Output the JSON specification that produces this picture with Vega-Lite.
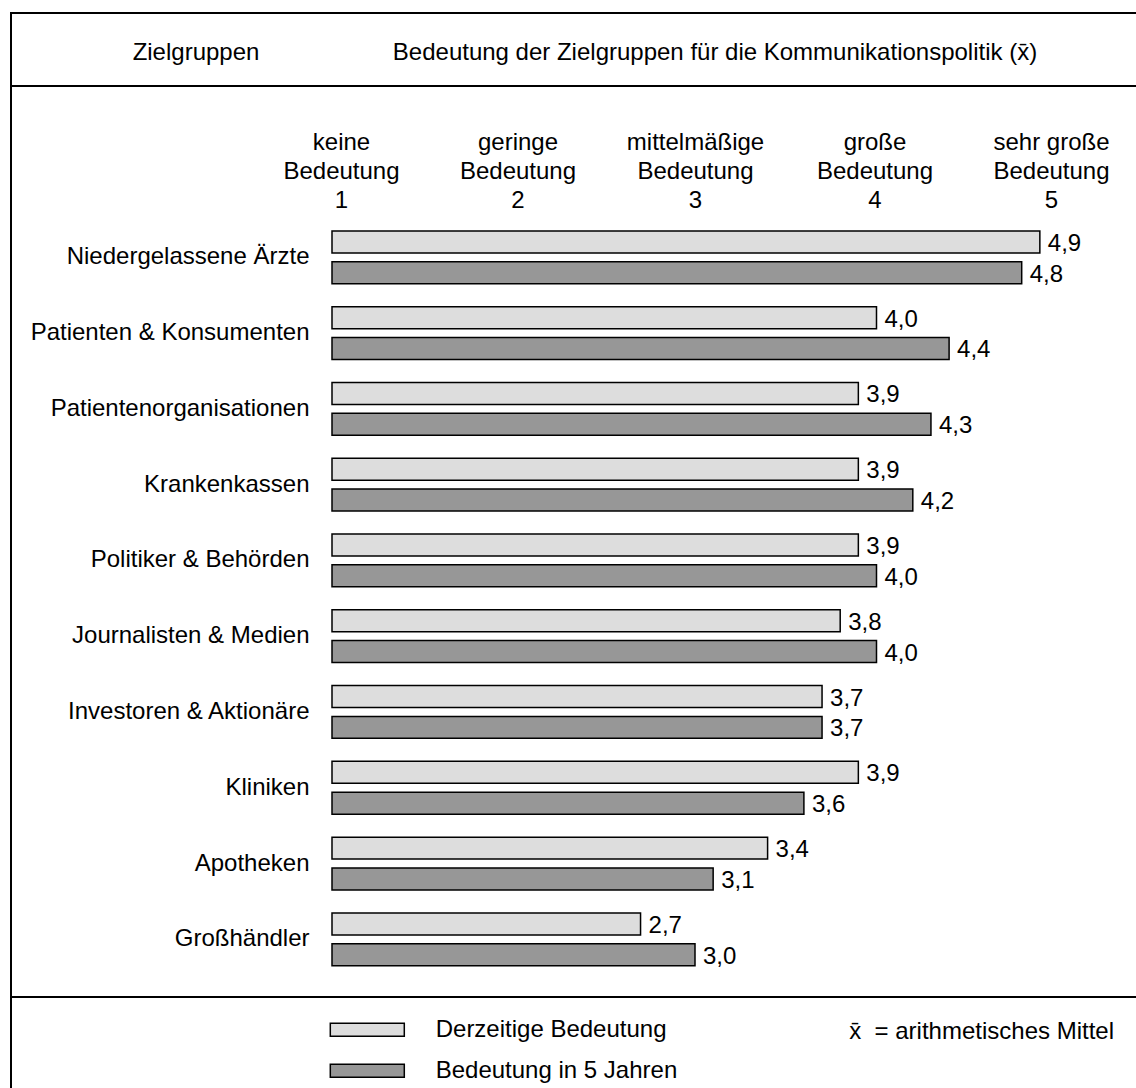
{
  "$schema": "https://vega.github.io/schema/vega-lite/v6.json",
  "padding": {"left": 10, "top": 12, "right": 0, "bottom": 0},
  "spacing": 0,
  "bounds": "flush",
  "config": {
    "font": "Liberation Sans",
    "view": {"stroke": "#000000", "strokeWidth": 2},
    "locale": {"number": {"decimal": ",", "thousands": ".", "grouping": [3], "currency": ["", " €"]}}
  },
  "vconcat": [
    {
      "width": 1127,
      "height": 73,
      "data": {"values": [
        {"h": "Zielgruppen"},
        {"h": "Bedeutung der Zielgruppen für die Kommunikationspolitik (x̄)"}
      ]},
      "mark": {"type": "text", "fontSize": 24, "baseline": "alphabetic", "dy": 10, "color": "#000000"},
      "encoding": {
        "x": {"field": "h", "type": "nominal", "sort": null, "axis": null,
              "scale": {"type": "point", "range": [185, 704], "padding": 0}},
        "text": {"field": "h"}
      }
    },
    {
      "width": 1127,
      "height": 911,
      "data": {"values": [
        {"Zielgruppe": "Niedergelassene Ärzte", "Zeitpunkt": "Derzeitige Bedeutung", "Wert": 4.9},
        {"Zielgruppe": "Niedergelassene Ärzte", "Zeitpunkt": "Bedeutung in 5 Jahren", "Wert": 4.8},
        {"Zielgruppe": "Patienten & Konsumenten", "Zeitpunkt": "Derzeitige Bedeutung", "Wert": 4.0},
        {"Zielgruppe": "Patienten & Konsumenten", "Zeitpunkt": "Bedeutung in 5 Jahren", "Wert": 4.4},
        {"Zielgruppe": "Patientenorganisationen", "Zeitpunkt": "Derzeitige Bedeutung", "Wert": 3.9},
        {"Zielgruppe": "Patientenorganisationen", "Zeitpunkt": "Bedeutung in 5 Jahren", "Wert": 4.3},
        {"Zielgruppe": "Krankenkassen", "Zeitpunkt": "Derzeitige Bedeutung", "Wert": 3.9},
        {"Zielgruppe": "Krankenkassen", "Zeitpunkt": "Bedeutung in 5 Jahren", "Wert": 4.2},
        {"Zielgruppe": "Politiker & Behörden", "Zeitpunkt": "Derzeitige Bedeutung", "Wert": 3.9},
        {"Zielgruppe": "Politiker & Behörden", "Zeitpunkt": "Bedeutung in 5 Jahren", "Wert": 4.0},
        {"Zielgruppe": "Journalisten & Medien", "Zeitpunkt": "Derzeitige Bedeutung", "Wert": 3.8},
        {"Zielgruppe": "Journalisten & Medien", "Zeitpunkt": "Bedeutung in 5 Jahren", "Wert": 4.0},
        {"Zielgruppe": "Investoren & Aktionäre", "Zeitpunkt": "Derzeitige Bedeutung", "Wert": 3.7},
        {"Zielgruppe": "Investoren & Aktionäre", "Zeitpunkt": "Bedeutung in 5 Jahren", "Wert": 3.7},
        {"Zielgruppe": "Kliniken", "Zeitpunkt": "Derzeitige Bedeutung", "Wert": 3.9},
        {"Zielgruppe": "Kliniken", "Zeitpunkt": "Bedeutung in 5 Jahren", "Wert": 3.6},
        {"Zielgruppe": "Apotheken", "Zeitpunkt": "Derzeitige Bedeutung", "Wert": 3.4},
        {"Zielgruppe": "Apotheken", "Zeitpunkt": "Bedeutung in 5 Jahren", "Wert": 3.1},
        {"Zielgruppe": "Großhändler", "Zeitpunkt": "Derzeitige Bedeutung", "Wert": 2.7},
        {"Zielgruppe": "Großhändler", "Zeitpunkt": "Bedeutung in 5 Jahren", "Wert": 3.0}
      ]},
      "encoding": {
        "y": {"field": "Zielgruppe", "type": "nominal", "sort": null,
              "scale": {"range": [133.4, 891.2], "paddingInner": 0, "paddingOuter": 0},
              "axis": {"title": null, "orient": "left", "offset": -321, "domain": false, "ticks": false, "tickSize": 0,
                       "labelPadding": 23, "labelFontSize": 24, "labelColor": "#000000", "labelLimit": 0, "grid": false}},
        "yOffset": {"field": "Zeitpunkt", "type": "nominal", "sort": ["Derzeitige Bedeutung", "Bedeutung in 5 Jahren"],
                    "scale": {"paddingInner": 0.286, "paddingOuter": 0.373}}
      },
      "layer": [
        {
          "mark": {"type": "bar", "stroke": "#000000", "strokeWidth": 1.5},
          "encoding": {
            "x": {"field": "Wert", "type": "quantitative",
                  "scale": {"domain": [1, 5], "range": [321, 1047], "zero": false, "nice": false},
                  "axis": {"orient": "top", "offset": -72, "values": [1, 2, 3, 4, 5], "title": null,
                           "domain": false, "ticks": false, "tickSize": 0, "grid": false,
                           "labelPadding": 4, "labelFontSize": 24, "labelLineHeight": 29, "labelColor": "#000000",
                           "labelFlush": false, "labelOverlap": false, "labelBound": false,
                           "labelExpr": "datum.value == 1 ? ['keine', 'Bedeutung', '1'] : datum.value == 2 ? ['geringe', 'Bedeutung', '2'] : datum.value == 3 ? ['mittelmäßige', 'Bedeutung', '3'] : datum.value == 4 ? ['große', 'Bedeutung', '4'] : ['sehr große', 'Bedeutung', '5']",
                           "labelOffset": {"condition": [
                             {"test": "datum.value == 1", "value": 9},
                             {"test": "datum.value == 2", "value": 4},
                             {"test": "datum.value == 4", "value": -2},
                             {"test": "datum.value == 5", "value": -7}
                           ], "value": 0}}},
            "x2": {"datum": 1},
            "color": {"field": "Zeitpunkt", "type": "nominal",
                      "sort": ["Derzeitige Bedeutung", "Bedeutung in 5 Jahren"],
                      "scale": {"domain": ["Derzeitige Bedeutung", "Bedeutung in 5 Jahren"], "range": ["#dddddd", "#979797"]},
                      "legend": {"orient": "none", "legendX": 344.3, "legendY": 1004.7, "title": null, "direction": "vertical",
                                 "symbolType": "M-7.4,-1.3L7.4,-1.3L7.4,1.3L-7.4,1.3Z", "symbolSize": 100,
                                 "symbolStrokeColor": "#000000", "symbolStrokeWidth": 1.5,
                                 "labelFontSize": 24, "labelOffset": 56.4, "rowPadding": 17,
                                 "labelColor": "#000000", "labelLimit": 0}}
          }
        },
        {
          "mark": {"type": "text", "align": "left", "baseline": "middle", "dx": 8, "dy": 2, "fontSize": 24, "color": "#000000"},
          "encoding": {
            "x": {"field": "Wert", "type": "quantitative"},
            "text": {"field": "Wert", "type": "quantitative", "format": ".1f"}
          }
        }
      ]
    },
    {
      "width": 1127,
      "height": 93,
      "data": {"values": [{"note": "x̄\u00a0 = arithmetisches Mittel"}]},
      "mark": {"type": "text", "align": "right", "baseline": "alphabetic", "fontSize": 24, "dx": -24, "dy": -5, "color": "#000000"},
      "encoding": {
        "text": {"field": "note"},
        "x": {"value": "width"}
      }
    }
  ]
}
